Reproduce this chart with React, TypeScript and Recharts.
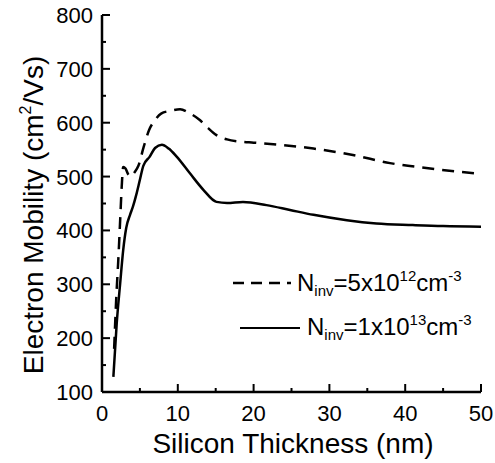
import React from "react";
import { LineChart, Line, XAxis, YAxis } from "recharts";

// N_inv = 5x10^12 cm^-3 (dashed)
const thicknessLow = [1.6, 1.9, 2.15, 2.4, 2.6, 2.8, 3.1, 3.5, 3.8, 4.3, 4.8, 5.5, 6.2, 7.0, 7.8, 9.0, 10.3, 11.5, 12.9, 14.0, 15.1, 16.5, 18.2, 20, 23.5, 27.9, 33.1, 38, 43.3, 50];
const mobilityLow = [180, 280, 345, 420, 481, 518, 515, 503, 500, 508, 520, 555, 586, 605, 617, 622, 625, 618, 605, 590, 577, 569, 565, 563, 559, 552, 540, 525, 515, 505];

// N_inv = 1x10^13 cm^-3 (solid)
const thicknessHigh = [1.5, 1.94, 2.4, 2.8, 3.2, 3.7, 4.1, 4.5, 5.0, 5.45, 6.3, 7.0, 7.9, 8.8, 9.85, 11.6, 13.4, 15.1, 16.5, 18.6, 21.7, 24.8, 27.9, 32.3, 36.2, 41, 45, 50];
const mobilityHigh = [128, 227, 302, 364, 405, 429, 445, 465, 494, 520, 537, 553, 559, 552, 537, 506, 475, 453, 451, 453, 447, 438, 429, 419, 413, 410, 408, 407];

const xTicks = [0, 5, 10, 15, 20, 25, 30, 35, 40, 45, 50];
const yTicks = [100, 150, 200, 250, 300, 350, 400, 450, 500, 550, 600, 650, 700, 750, 800];

const FONT = "'Liberation Sans', Arial, Helvetica, sans-serif";
const AXIS = { stroke: "#000", strokeWidth: 2.5 };

const dashedData = thicknessLow.map((x, i) => ({ x, y: mobilityLow[i] }));
const solidData = thicknessHigh.map((x, i) => ({ x, y: mobilityHigh[i] }));

// inward tick marks for the top and right frame axes
const mk = (dx: number, dy: number) => ({ x, y, payload }: any) => {
  const major = dx !== 0 ? payload.value % 100 === 0 : payload.value % 10 === 0;
  const len = major ? 8 : 4;
  return (
    <line x1={x} y1={y} x2={x + dx * len} y2={y + dy * len} stroke="#000" strokeWidth={2} />
  );
};

const BottomTick = ({ x, y, payload }: any) => {
  const major = payload.value % 10 === 0;
  return (
    <g>
      <line x1={x} y1={y} x2={x} y2={y - (major ? 8 : 4)} stroke="#000" strokeWidth={2} />
      {major && (
        <text x={x} y={y + 29} textAnchor="middle" fontSize={22} fontFamily={FONT} fill="#000">
          {payload.value}
        </text>
      )}
    </g>
  );
};

const LeftTick = ({ x, y, payload }: any) => {
  const major = payload.value % 100 === 0;
  return (
    <g>
      <line x1={x} y1={y} x2={x + (major ? 8 : 4)} y2={y} stroke="#000" strokeWidth={2} />
      {major && (
        <text x={x - 9} y={y + 8} textAnchor="end" fontSize={22} fontFamily={FONT} fill="#000">
          {payload.value}
        </text>
      )}
    </g>
  );
};

const TopTick = mk(0, 1);
const RightTick = mk(-1, 0);

export default function App() {
  return (
    <div style={{ position: "absolute", left: 0, top: 0, width: 495, height: 463, background: "#fff" }}>
      <LineChart width={495} height={463} margin={{ top: 15, right: 14, left: 0, bottom: 0 }}>
        <XAxis xAxisId="b" type="number" dataKey="x" domain={[0, 50]} ticks={xTicks} interval={0}
          height={71} tickSize={0} tickMargin={0} axisLine={AXIS} tickLine={false} tick={<BottomTick />} />
        <XAxis xAxisId="t" orientation="top" type="number" dataKey="x" domain={[0, 50]} ticks={xTicks} interval={0}
          height={0} tickSize={0} tickMargin={0} axisLine={AXIS} tickLine={false} tick={<TopTick />} />
        <YAxis yAxisId="l" type="number" domain={[100, 800]} ticks={yTicks} interval={0}
          width={102} tickSize={0} tickMargin={0} axisLine={AXIS} tickLine={false} tick={<LeftTick />} />
        <YAxis yAxisId="r" orientation="right" type="number" domain={[100, 800]} ticks={yTicks} interval={0}
          width={0} tickSize={0} tickMargin={0} axisLine={AXIS} tickLine={false} tick={<RightTick />} />
        <Line xAxisId="b" yAxisId="l" data={dashedData} dataKey="y" type="monotone" stroke="#000"
          strokeWidth={2.5} strokeDasharray="12 8" dot={false} isAnimationActive={false} />
        <Line xAxisId="b" yAxisId="l" data={solidData} dataKey="y" type="monotone" stroke="#000"
          strokeWidth={2.5} dot={false} isAnimationActive={false} />
      </LineChart>
      <svg width={495} height={463} style={{ position: "absolute", left: 0, top: 0, pointerEvents: "none" }}
        fontFamily={FONT} fill="#000">
        <text x={293} y={453} textAnchor="middle" fontSize={28}>Silicon Thickness (nm)</text>
        <text transform="translate(43,215) rotate(-90)" textAnchor="middle" fontSize={28}>
          Electron Mobility (cm<tspan fontSize={16} dy={-12}>2</tspan><tspan dy={12}>/Vs)</tspan>
        </text>
        <line x1={233} y1={283} x2={291} y2={283} stroke="#000" strokeWidth={2.5} strokeDasharray="11 7" />
        <text x={297} y={291} fontSize={24}>
          N<tspan fontSize={15} dy={5}>inv</tspan><tspan dy={-5}>=5x10</tspan>
          <tspan fontSize={15} dy={-10}>12</tspan><tspan dy={10}>cm</tspan>
          <tspan fontSize={15} dy={-10}>-3</tspan>
        </text>
        <line x1={240} y1={328} x2={300} y2={328} stroke="#000" strokeWidth={2} />
        <text x={307} y={335} fontSize={24}>
          N<tspan fontSize={15} dy={5}>inv</tspan><tspan dy={-5}>=1x10</tspan>
          <tspan fontSize={15} dy={-10}>13</tspan><tspan dy={10}>cm</tspan>
          <tspan fontSize={15} dy={-10}>-3</tspan>
        </text>
      </svg>
    </div>
  );
}
